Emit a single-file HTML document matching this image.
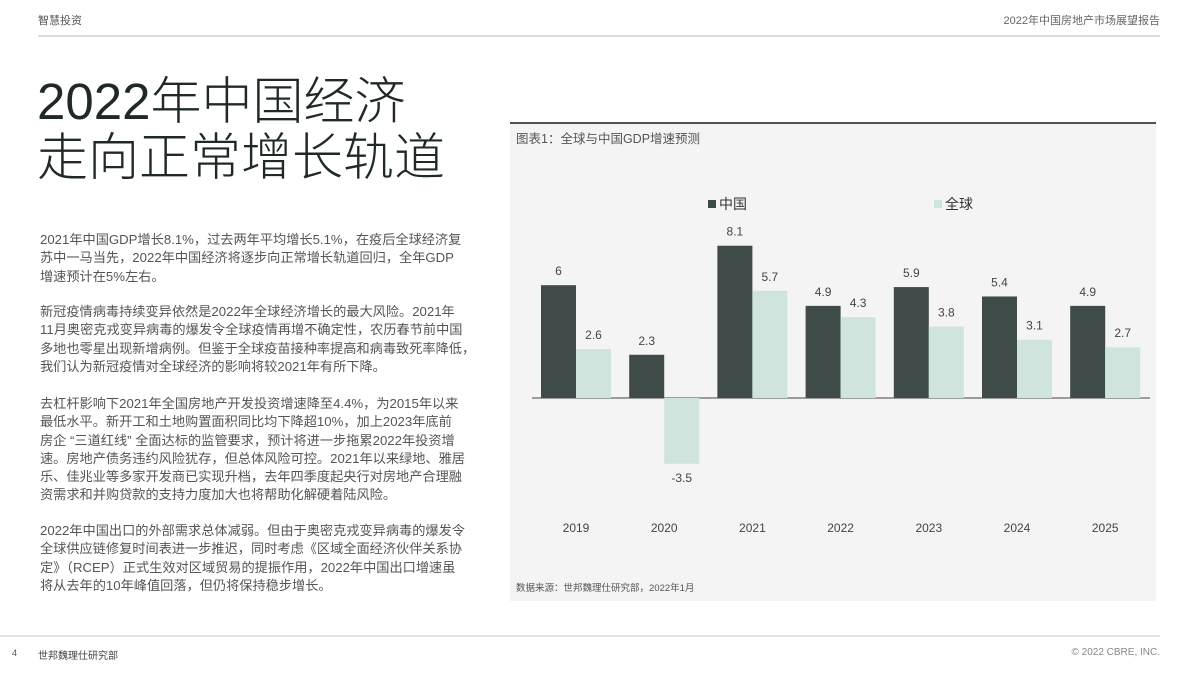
<!DOCTYPE html>
<html><head><meta charset="utf-8">
<style>
body{margin:0;width:1200px;height:675px;background:#fff;position:relative;overflow:hidden;font-family:"Liberation Sans","Noto Sans CJK SC",sans-serif;color:#3a3a3a}
.abs{position:absolute}
.p{position:absolute;left:40px;width:440px;font-size:13.2px;line-height:18.3px;color:#555;white-space:nowrap}
</style></head><body>
<div class="abs" style="left:38px;top:12px;font-size:11px;color:#555">智慧投资</div>
<div class="abs" style="right:40px;top:12px;font-size:11px;color:#666">2022年中国房地产市场展望报告</div>
<div class="abs" style="left:38px;top:35px;width:1122px;height:2px;background:#dcdcde"></div>

<div class="abs" style="left:37px;top:74px;font-size:51px;line-height:56px;color:#1f2a28;font-weight:300">2022年中国经济<br>走向正常增长轨道</div>

<div class="p" style="top:231px">2021年中国GDP增长8.1%，过去两年平均增长5.1%，在疫后全球经济复<br>苏中一马当先，2022年中国经济将逐步向正常增长轨道回归，全年GDP<br>增速预计在5%左右。</div>
<div class="p" style="top:303px">新冠疫情病毒持续变异依然是2022年全球经济增长的最大风险。2021年<br>11月奥密克戎变异病毒的爆发令全球疫情再增不确定性，农历春节前中国<br>多地也零星出现新增病例。但鉴于全球疫苗接种率提高和病毒致死率降低，<br>我们认为新冠疫情对全球经济的影响将较2021年有所下降。</div>
<div class="p" style="top:395px">去杠杆影响下2021年全国房地产开发投资增速降至4.4%，为2015年以来<br>最低水平。新开工和土地购置面积同比均下降超10%，加上2023年底前<br>房企 “三道红线” 全面达标的监管要求，预计将进一步拖累2022年投资增<br>速。房地产债务违约风险犹存，但总体风险可控。2021年以来绿地、雅居<br>乐、佳兆业等多家开发商已实现升档，去年四季度起央行对房地产合理融<br>资需求和并购贷款的支持力度加大也将帮助化解硬着陆风险。</div>
<div class="p" style="top:522px">2022年中国出口的外部需求总体减弱。但由于奥密克戎变异病毒的爆发令<br>全球供应链修复时间表进一步推迟，同时考虑《区域全面经济伙伴关系协<br>定》（RCEP）正式生效对区域贸易的提振作用，2022年中国出口增速虽<br>将从去年的10年峰值回落，但仍将保持稳步增长。</div>

<div class="abs" style="left:510px;top:122px;width:646px;height:477px;background:#f4f4f4;border-top:2px solid #4a5553"></div>
<div class="abs" style="left:516px;top:128px;font-size:12.5px;color:#555">图表1：全球与中国GDP增速预测</div>
<svg class="abs" style="left:0;top:0" width="1200" height="675" id="chart"></svg>
<div class="abs" style="left:516px;top:580px;font-size:9.5px;color:#555">数据来源：世邦魏理仕研究部，2022年1月</div>

<div class="abs" style="left:0;top:635px;width:1160px;height:2px;background:#e2e2e2"></div>
<div class="abs" style="left:12px;top:648px;font-size:9px;color:#555">4</div>
<div class="abs" style="left:38px;top:647px;font-size:10px;color:#444">世邦魏理仕研究部</div>
<div class="abs" style="right:40px;top:647px;font-size:10px;color:#888">© 2022 CBRE, INC.</div>

<script>
const years=['2019','2020','2021','2022','2023','2024','2025'];
const china=[6,2.3,8.1,4.9,5.9,5.4,4.9];
const world=[2.6,-3.5,5.7,4.3,3.8,3.1,2.7];
const seriesNames=['中国','全球'];
const svg=document.getElementById('chart');
const NS='http://www.w3.org/2000/svg';
const zeroY=398, unit=18.8, x0=576, step=88.2, bw=35;
const yOf=v=>zeroY-v*unit;
function mk(tag,attrs){const e=document.createElementNS(NS,tag);for(const k in attrs)e.setAttribute(k,attrs[k]);svg.appendChild(e);return e;}
const colors=['#3e4b49','#cfe4dc'];
const axis=mk('line',{x1:532,x2:1150,y1:zeroY,y2:zeroY,stroke:'#444','stroke-width':1});


[china,world].forEach((s,si)=>{
  s.forEach((v,i)=>{
    const cx=x0+i*step;
    const x=si===0?cx-bw:cx;
    const y=Math.min(yOf(v),zeroY), h=Math.abs(v)*unit;
    const r=mk('rect',{x:x,y:y,width:bw,height:h,fill:colors[si]});
    
    
    const ty=v>=0?y-10:zeroY+h+18;
    const t=mk('text',{x:x+bw/2,y:ty,'text-anchor':'middle','font-size':12,fill:'#444','font-family':'Liberation Sans, sans-serif'});
    t.textContent=String(v);
    
    
  });
});
years.forEach((yr,i)=>{
  const t=mk('text',{x:x0+i*step,y:532,'text-anchor':'middle','font-size':12,fill:'#444','font-family':'Liberation Sans, sans-serif'});
  t.textContent=yr;
  
  
});
const legX=[708,934];
seriesNames.forEach((n,i)=>{
  const r=mk('rect',{x:legX[i],y:200,width:8,height:8,fill:colors[i]});
  
  
  const t=mk('text',{x:legX[i]+11,y:209,'font-size':14,fill:'#333','font-family':'Liberation Sans, Noto Sans CJK SC, sans-serif'});
  t.textContent=n;
  
  
});
</script>
</body></html>
